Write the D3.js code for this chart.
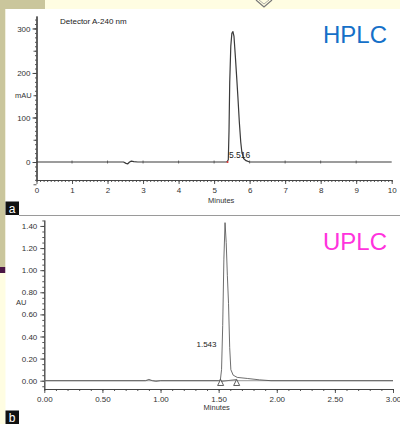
<!DOCTYPE html>
<html><head><meta charset="utf-8">
<script src="https://cdn.jsdelivr.net/npm/d3@7"></script>
<style>
html,body{margin:0;padding:0;background:#fff;}
svg{display:block;font-family:"Liberation Sans",Arial,sans-serif;}
</style></head>
<body>
<script>
// ---------- data ----------
const hplcTime = [0,2.45,2.52,2.57,2.62,2.67,2.74,2.85,5.36,5.40,5.42,5.44,5.47,5.50,5.53,5.56,5.60,5.64,5.67,5.71,5.75,5.78,5.83,5.90,6.00,10];
const hplcSignal = [0,0,-3,-4,0,2,1,0,0,5,70,180,260,289,293,282,235,185,146,90,45,23,8,3,0,0];
const hplcXTicks = [0,1,2,3,4,5,6,7,8,9,10];
const hplcYTicks = [0,100,200,300];
const hplcPeakLabel = "5.516";

const uplcTime = [0,0.87,0.90,0.93,0.96,1.00,1.50,1.515,1.525,1.535,1.545,1.555,1.565,1.575,1.585,1.595,1.605,1.625,1.66,1.75,1.85,1.95,3.0];
const uplcSignal = [0,0,0.012,0,-0.006,0,0,0.01,0.1,0.5,1.1,1.43,1.25,0.95,0.7,0.3,0.1,0.05,0.03,0.02,0.008,0,0];
const uplcXTicks = [0,0.5,1.0,1.5,2.0,2.5,3.0];
const uplcYTicks = [0,0.2,0.4,0.6,0.8,1.0,1.2,1.4];
const uplcPeakLabel = "1.543";
const uplcMarkers = [1.517,1.655];

const W=400,H=424;
const svg=d3.select("body").append("svg").attr("width",W).attr("height",H);

// ---------- background ----------
svg.append("rect").attr("x",0).attr("y",0).attr("width",W).attr("height",H).attr("fill","#fffde2");
svg.append("rect").attr("x",0).attr("y",0).attr("width",45).attr("height",9).attr("fill","#cac69c");
svg.append("rect").attr("x",0).attr("y",0).attr("width",5.5).attr("height",267).attr("fill","#cac69c");
svg.append("rect").attr("x",0).attr("y",267).attr("width",5.5).attr("height",6).attr("fill","#4b1645");
svg.append("rect").attr("x",5.5).attr("y",9).attr("width",W-5.5).attr("height",H-9).attr("fill","#ffffff");
svg.append("path").attr("d","M256,0 L264,7 L272,0").attr("fill","none").attr("stroke","#777").attr("stroke-width",1.2);
svg.append("path").attr("d","M259,0 L264,4 L269,0").attr("fill","none").attr("stroke","#999").attr("stroke-width",0.8);

// panel labels
function panelTag(y,t){
  svg.append("rect").attr("x",5.5).attr("y",y).attr("width",13.5).attr("height",13.5).attr("fill","#111");
  svg.append("text").attr("x",12).attr("y",y+11).attr("text-anchor","middle").attr("fill","#fff")
    .attr("font-size",12).text(t);
}
panelTag(201.5,"a");
panelTag(410.5,"b");
svg.append("line").attr("x1",19).attr("x2",W).attr("y1",215.5).attr("y2",215.5).attr("stroke","#9a9a9a").attr("stroke-width",1.2);

const axisColor="#444", textColor="#333";
function styleAxis(g){
  g.selectAll("path,line").attr("stroke",axisColor).attr("stroke-width",0.9);
  g.selectAll("text").attr("fill",textColor).attr("font-size",8).attr("font-family","'Liberation Sans',Arial,sans-serif");
}
function range(a,b,s){const r=[];for(let v=a;v<=b+1e-9;v+=s)r.push(+v.toFixed(4));return r;}

// ---------- panel a: HPLC ----------
const xA=d3.scaleLinear().domain([0,10]).range([36.5,391.7]);
const yA=d3.scaleLinear().domain([-40.4,328]).range([180,16]);

svg.append("g").attr("transform","translate(0,180)")
  .call(d3.axisBottom(xA).tickValues(range(0,10,0.1)).tickSize(2).tickSizeOuter(0).tickFormat("")).call(styleAxis);
svg.append("g").attr("transform","translate(0,180)")
  .call(d3.axisBottom(xA).tickValues(hplcXTicks).tickSize(4).tickPadding(3).tickSizeOuter(0).tickFormat(d3.format("d"))).call(styleAxis);
svg.append("g").attr("transform","translate(36.5,0)")
  .call(d3.axisLeft(yA).tickValues(range(-40,320,10)).tickSize(1.5).tickSizeOuter(0).tickFormat("")).call(styleAxis);
svg.append("g").attr("transform","translate(36.5,0)")
  .call(d3.axisLeft(yA).tickValues(range(-50,300,50)).tickSize(3).tickSizeOuter(0).tickFormat("")).call(styleAxis);
svg.append("g").attr("transform","translate(36.5,0)")
  .call(d3.axisLeft(yA).tickValues(hplcYTicks).tickSize(4).tickPadding(2).tickSizeOuter(0).tickFormat(d3.format("d"))).call(styleAxis);

// baseline markers at integers
svg.append("g").selectAll("line").data(hplcXTicks.slice(1,10)).join("line")
  .attr("x1",d=>xA(d)).attr("x2",d=>xA(d)).attr("y1",yA(0)-1.5).attr("y2",yA(0)+1.5)
  .attr("stroke","#555").attr("stroke-width",0.8);

const lineA=d3.line().x((d,i)=>xA(hplcTime[i])).y((d,i)=>yA(hplcSignal[i]));
svg.append("path").datum(hplcSignal).attr("d",lineA).attr("fill","none")
  .attr("stroke","#3a3a3a").attr("stroke-width",1.2).attr("stroke-linejoin","round");
svg.append("circle").attr("cx",xA(5.38)).attr("cy",yA(0)).attr("r",1).attr("fill","#d33");

svg.append("text").attr("x",xA(5.42)).attr("y",yA(0)-4).attr("font-size",8.5).attr("fill","#222").text(hplcPeakLabel);
svg.append("text").attr("x",60).attr("y",24).attr("font-size",8).attr("fill","#222").text("Detector A-240 nm");
svg.append("text").attr("x",15).attr("y",98).attr("font-size",7.5).attr("fill",textColor).text("mAU");
svg.append("text").attr("x",xA(5.2)).attr("y",203).attr("text-anchor","middle").attr("font-size",7.5).attr("fill",textColor).text("Minutes");
svg.append("text").attr("x",323).attr("y",43).attr("font-size",24).attr("fill","#1570c8").attr("font-family","'Liberation Sans',Arial,sans-serif").text("HPLC");

// ---------- panel b: UPLC ----------
const xB=d3.scaleLinear().domain([0,3]).range([44.3,393]);
const yB=d3.scaleLinear().domain([-0.075,1.454]).range([389,220]);

svg.append("g").attr("transform","translate(0,389)")
  .call(d3.axisBottom(xB).tickValues(range(0,3,0.1)).tickSize(2).tickSizeOuter(0).tickFormat("")).call(styleAxis);
svg.append("g").attr("transform","translate(0,389)")
  .call(d3.axisBottom(xB).tickValues(uplcXTicks).tickSize(4).tickPadding(3).tickSizeOuter(0).tickFormat(d3.format(".2f"))).call(styleAxis);
svg.append("g").attr("transform","translate(44.3,0)")
  .call(d3.axisLeft(yB).tickValues(range(-0.05,1.45,0.05)).tickSize(2).tickSizeOuter(0).tickFormat("")).call(styleAxis);
svg.append("g").attr("transform","translate(44.3,0)")
  .call(d3.axisLeft(yB).tickValues(uplcYTicks).tickSize(4).tickPadding(3).tickSizeOuter(0).tickFormat(d3.format(".2f"))).call(styleAxis);

svg.append("line").attr("x1",xB(0)).attr("x2",xB(3)).attr("y1",yB(0)).attr("y2",yB(0)).attr("stroke","#999").attr("stroke-width",1);
const lineB=d3.line().x((d,i)=>xB(uplcTime[i])).y((d,i)=>yB(uplcSignal[i]));
svg.append("path").datum(uplcSignal).attr("d",lineB).attr("fill","none")
  .attr("stroke","#555").attr("stroke-width",1).attr("stroke-opacity",0.85).attr("stroke-linejoin","round");
svg.append("line").attr("x1",xB(uplcMarkers[0])).attr("x2",xB(uplcMarkers[1])).attr("y1",yB(-0.008)).attr("y2",yB(0.012))
  .attr("stroke","#666").attr("stroke-width",0.8);
svg.append("g").selectAll("path").data(uplcMarkers).join("path")
  .attr("d",d=>{const x=xB(d),y=yB(-0.025);return `M${x-3},${y+2} L${x+3},${y+2} L${x},${y-4} Z`;})
  .attr("fill","#fff").attr("stroke","#333").attr("stroke-width",0.8);

svg.append("text").attr("x",196.5).attr("y",347).attr("font-size",8).attr("fill","#222").text(uplcPeakLabel);
svg.append("text").attr("x",16).attr("y",305).attr("font-size",7.5).attr("fill",textColor).text("AU");
svg.append("text").attr("x",216.7).attr("y",410).attr("text-anchor","middle").attr("font-size",7.5).attr("fill",textColor).text("Minutes");
svg.append("text").attr("x",323).attr("y",250).attr("font-size",24).attr("fill","#ff33dd").attr("font-family","'Liberation Sans',Arial,sans-serif").text("UPLC");
</script>
</body></html>
